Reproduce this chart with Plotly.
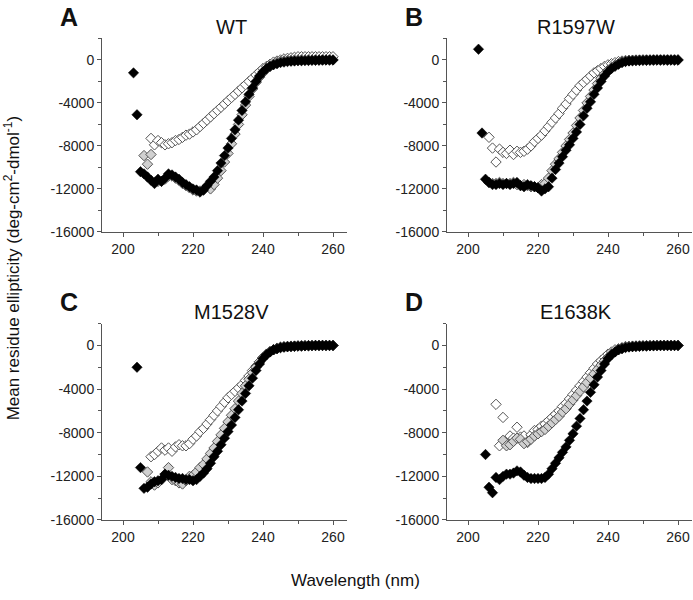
import plotly.graph_objects as go

# wavelength grids (nm) and mean residue ellipticity values
wt_black_wl = list(range(203, 261))
wt_black = [-1200, -5100, -10400, -10600, -10900, -11200, -11500, -11100, -11300, -11000,
            -10600, -10700, -10900, -11100, -11400, -11600, -11800, -12000, -12100, -12300,
            -12100, -11700, -11300, -10900, -10300, -9600, -8900, -8200, -7300, -6500,
            -5600, -4700, -3900, -3200, -2600, -2000, -1500, -1100, -800, -600,
            -450, -350, -250, -200, -150, -120, -100, -80, -70, -60,
            -50, -40, -30, -20, -10, 0, 0, 0]
wt_open_wl = list(range(208, 261))
wt_open = [-7300, -7900, -7500, -7700, -7900, -7800, -7700, -7500, -7400, -7200,
           -7000, -6900, -6700, -6500, -6200, -5900, -5600, -5300, -5000, -4700,
           -4400, -4100, -3800, -3500, -3200, -2900, -2600, -2300, -2000, -1700,
           -1400, -1100, -800, -600, -400, -200, -100, 0, 100, 150,
           200, 250, 300, 300, 300, 300, 300, 300, 300, 300, 300, 300, 300]
wt_grey_wl = list(range(206, 261))
wt_grey = [-8900, -9700, -8800, -11400, -11300, -11300, -11100, -10800, -10800, -11000,
           -11200, -11500, -11700, -11900, -12100, -12200, -12200, -12100, -11800, -12000,
           -11600, -11000, -10300, -9500, -8700, -7800, -6900, -6000, -5100, -4200,
           -3400, -2700, -2100, -1600, -1200, -850, -600, -400, -250, -150,
           -100, -60, -40, -20, 0, 0, 0, 0, 0, 0, 0, 0, 0, 0, 0]

r_black_wl = list(range(203, 261))
r_black = [1000, -6800, -11100, -11400, -11600, -11600, -11500, -11600, -11500, -11600,
           -11500, -11400, -11700, -11800, -11600, -11700, -11800, -11900, -12200, -12000,
           -11800, -11000, -10200, -9600, -9000, -8400, -7900, -7300, -6700, -6000,
           -5200, -4500, -3900, -3200, -2600, -2000, -1500, -1100, -800, -600,
           -400, -250, -150, -100, -80, -60, -50, -40, -30, -20,
           -10, 0, 0, 0, 0, 0, 0, 0]
r_open_wl = list(range(206, 261))
r_open = [-7200, -8200, -9500, -8300, -8600, -8700, -8400, -8800, -8500, -8600,
          -8500, -8300, -8000, -7600, -7300, -7000, -6600, -6200, -5800, -5400,
          -5000, -4500, -4100, -3600, -3200, -2800, -2400, -2100, -1800, -1500,
          -1200, -1000, -800, -600, -450, -350, -250, -150, -100, -50,
          -30, -20, 0, 0, 0, 0, 0, 0, 0, 0, 0, 0, 0, 0, 0]
r_grey_wl = list(range(206, 261))
r_grey = [-11400, -11500, -11500, -11400, -11500, -11500, -11500, -11400, -11600, -11700,
          -11600, -11700, -11800, -11800, -11900, -11600, -11500, -11000, -10300, -9700,
          -9200, -8600, -8000, -7400, -6800, -6100, -5400, -4700, -4000, -3400,
          -2800, -2200, -1700, -1300, -950, -700, -500, -350, -200, -120,
          -80, -50, -30, -20, 0, 0, 0, 0, 0, 0, 0, 0, 0, 0, 0]

m_black_wl = list(range(204, 261))
m_black = [-2000, -11200, -13100, -13000, -12700, -12500, -12400, -12300, -11800, -11900,
           -12000, -12100, -12200, -12200, -12300, -12300, -12400, -12300, -12000, -11700,
           -11300, -10800, -10200, -9700, -9100, -8500, -7900, -7300, -6600, -5900,
           -5100, -4400, -3700, -3000, -2300, -1700, -1200, -850, -600, -400,
           -300, -200, -150, -120, -100, -80, -60, -50, -40, -30,
           -20, -10, 0, 0, 0, 0, 0]
m_open_wl = list(range(208, 261))
m_open = [-10200, -10000, -9700, -9400, -9600, -9400, -9700, -9300, -9100, -9200,
          -9200, -9000, -8600, -8300, -7900, -7600, -7200, -6800, -6400, -6000,
          -5600, -5200, -4800, -4500, -4200, -3900, -3600, -3200, -2800, -2300,
          -1900, -1500, -1100, -800, -600, -400, -250, -150, -100, -80,
          -60, -50, -40, -30, -20, -10, 0, 0, 0, 0, 0, 0, 0]
m_grey_wl = list(range(207, 261))
m_grey = [-11600, -12500, -12800, -12600, -12300, -11800, -11200, -12300, -12400, -12600,
          -12700, -12400, -12000, -11900, -11600, -11200, -10900, -10400, -9900, -9400,
          -8800, -8200, -7600, -7000, -6400, -5800, -5100, -4400, -3700, -3100,
          -2500, -2000, -1500, -1100, -800, -550, -400, -280, -200, -150,
          -110, -90, -70, -50, -40, -30, -20, -10, 0, 0, 0, 0, 0, 0]

e_black_wl = list(range(205, 261))
e_black = [-10000, -13000, -13500, -12100, -12300, -12000, -11800, -11800, -11700, -11500,
           -11600, -11900, -12100, -12200, -12200, -12200, -12200, -12100, -11800, -11300,
           -10800, -10300, -9800, -9300, -8700, -8100, -7400, -6700, -5900, -5100,
           -4300, -3600, -2900, -2300, -1700, -1200, -850, -600, -400, -300,
           -200, -150, -120, -100, -80, -60, -50, -40, -30, -20,
           -10, 0, 0, 0, 0, 0]
e_open_wl = list(range(208, 261))
e_open = [-5400, -9200, -6600, -9000, -8300, -8500, -7500, -8400, -8300, -8900,
          -8200, -7800, -7700, -7400, -7200, -6900, -6600, -6300, -6000, -5600,
          -5300, -4900, -4500, -4100, -3700, -3300, -2900, -2500, -2100, -1700,
          -1400, -1100, -800, -600, -400, -300, -200, -100, -80, -60,
          -50, -40, -30, -20, -10, 0, 0, 0, 0, 0, 0, 0, 0]
e_grey_wl = list(range(210, 261))
e_grey = [-8700, -9200, -9100, -8800, -8500, -8600, -9000, -8800, -8600, -8300,
          -8100, -7900, -7700, -7400, -7100, -6800, -6500, -6100, -5800, -5400,
          -5000, -4600, -4200, -3800, -3400, -3000, -2600, -2200, -1800, -1400,
          -1100, -800, -600, -400, -250, -150, -100, -80, -60, -50,
          -40, -30, -20, -10, 0, 0, 0, 0, 0, 0, 0]

panel_letters = ["A", "B", "C", "D"]
panel_titles = ["WT", "R1597W", "M1528V", "E1638K"]
x_ticks = [200, 220, 240, 260]
y_ticks = [0, -4000, -8000, -12000, -16000]
y_tick_labels = ["0", "-4000", "-8000", "-12000", "-16000"]

panels = [
    (wt_black_wl, wt_black, wt_open_wl, wt_open, wt_grey_wl, wt_grey),
    (r_black_wl, r_black, r_open_wl, r_open, r_grey_wl, r_grey),
    (m_black_wl, m_black, m_open_wl, m_open, m_grey_wl, m_grey),
    (e_black_wl, e_black, e_open_wl, e_open, e_grey_wl, e_grey),
]

W, H = 693, 600
# panel boxes in pixels: (left, right, top, bottom)
boxes = [(102, 347, 39, 235), (447, 692, 39, 235),
         (102, 347, 328, 527), (447, 692, 328, 527)]

fig = go.Figure()
FONT = "Liberation Sans, Arial, sans-serif"

for i, (bw, bv, ow, ov, gw, gv) in enumerate(panels):
    sfx = "" if i == 0 else str(i + 1)
    xa, ya = "x" + sfx, "y" + sfx
    # open diamonds
    fig.add_trace(go.Scatter(x=ow, y=ov, mode="markers", xaxis=xa, yaxis=ya,
                             marker=dict(symbol="diamond", size=8, color="white",
                                         line=dict(color="#555555", width=1)),
                             showlegend=False))
    # grey diamonds
    fig.add_trace(go.Scatter(x=gw, y=gv, mode="markers", xaxis=xa, yaxis=ya,
                             marker=dict(symbol="diamond", size=8, color="#d0d0d0",
                                         line=dict(color="#555555", width=1)),
                             showlegend=False))
    # black diamonds
    fig.add_trace(go.Scatter(x=bw, y=bv, mode="markers", xaxis=xa, yaxis=ya,
                             marker=dict(symbol="diamond", size=8, color="black",
                                         line=dict(color="black", width=0.5)),
                             showlegend=False))

    l, r, t, b = boxes[i]
    axis_common = dict(showgrid=False, zeroline=False, showline=True,
                       linecolor="#555555", linewidth=1, ticks="outside",
                       ticklen=4, tickcolor="#555555",
                       tickfont=dict(family=FONT, size=14, color="#222222"))
    fig.update_layout(**{
        "xaxis" + sfx: dict(domain=[l / W, r / W], range=[194, 264], anchor=ya,
                            tickvals=x_ticks,
                            minor=dict(dtick=10, tick0=200, ticks="outside", ticklen=3,
                                       tickcolor="#555555"),
                            **axis_common),
        "yaxis" + sfx: dict(domain=[1 - b / H, 1 - t / H], range=[-16000, 2000], anchor=xa,
                            tickvals=y_ticks, ticktext=y_tick_labels,
                            minor=dict(dtick=2000, tick0=0, ticks="outside", ticklen=3,
                                       tickcolor="#555555"),
                            **axis_common),
    })

    # panel title and letter
    fig.add_annotation(text=panel_titles[i], x=(l + r) / 2 / W + 0.01, y=1 - (t - 12) / H,
                       xref="paper", yref="paper", showarrow=False,
                       font=dict(family=FONT, size=20, color="#111111"),
                       xanchor="center", yanchor="middle")
    fig.add_annotation(text="<b>" + panel_letters[i] + "</b>", x=(l - 33) / W,
                       y=1 - (t - 22) / H, xref="paper", yref="paper", showarrow=False,
                       font=dict(family=FONT, size=25, color="#111111"),
                       xanchor="center", yanchor="middle")

fig.add_annotation(text="Mean residue ellipticity (deg-cm<sup>2</sup>-dmol<sup>-1</sup>)",
                   x=12 / W, y=1 - 272 / H, xref="paper", yref="paper", showarrow=False,
                   textangle=-90, font=dict(family=FONT, size=17, color="#111111"),
                   xanchor="center", yanchor="middle")
fig.add_annotation(text="Wavelength (nm)", x=355 / W, y=1 - 588 / H,
                   xref="paper", yref="paper", showarrow=False,
                   font=dict(family=FONT, size=17, color="#111111"),
                   xanchor="center", yanchor="middle")

fig.update_layout(width=W, height=H, margin=dict(l=0, r=0, t=0, b=0),
                  paper_bgcolor="white", plot_bgcolor="white",
                  font=dict(family=FONT))

# the page's default body margin would push the figure off its 693x600 frame
fig.write_html("out.html", config={"displayModeBar": False},
               post_script="document.body.style.margin='0px';")
